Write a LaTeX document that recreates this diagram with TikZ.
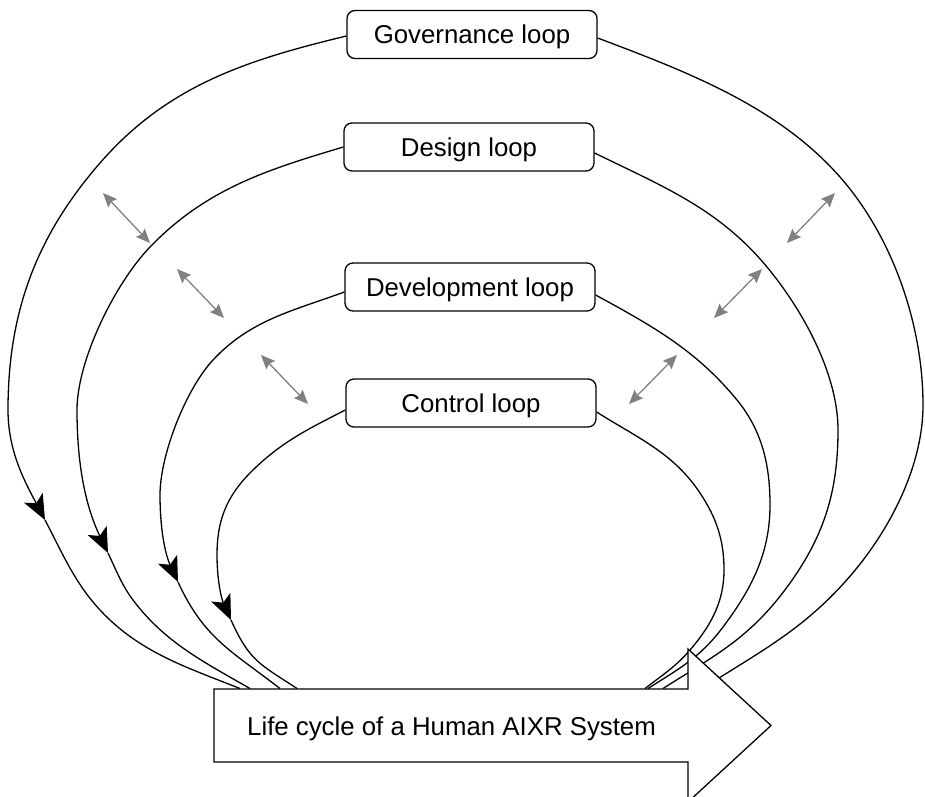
\documentclass[tikz,border=0pt]{standalone}
\usepackage{fontspec}
\setmainfont{Liberation Sans}
\usetikzlibrary{arrows.meta}
\definecolor{linkgray}{RGB}{128,128,128}
\begin{document}
\begin{tikzpicture}[x=1pt,y=-1pt,
  font=\fontsize{25.8}{31}\selectfont,
  loopbox/.style={draw, line width=1.3pt, rounded corners=8pt, fill=white,
    minimum width=250pt, minimum height=48pt, inner sep=0pt,
    text height=18.5pt, text depth=0pt},
  flow/.style={line width=1.3pt},
  flowin/.style={flow, -{Stealth[length=25pt,width=21pt,inset=6pt]}},
  link/.style={draw=linkgray, line width=1.3pt,
    {Stealth[length=14pt,width=12pt,inset=2pt]}-{Stealth[length=14pt,width=12pt,inset=2pt]}},
  lifearrow/.style={draw, line width=1.3pt, fill=white, line join=miter}
]
\useasboundingbox (0,0) rectangle (925,796);
\clip (0,0) rectangle (925,796);

% loop labels
\node[loopbox] (gov) at (472,34.5) {Governance loop};
\node[loopbox] (des) at (469,147) {Design loop};
\node[loopbox] (dev) at (470,287) {Development loop};
\node[loopbox] (ctl) at (471,403) {Control loop};

% arrow tips on the left arcs and ends on the life-cycle arrow
\coordinate (govT) at (45,520);
\coordinate (desT) at (108,553);
\coordinate (devT) at (178,582);
\coordinate (ctlT) at (231,620);
\coordinate (govL) at (240,688.5);
\coordinate (desL) at (250,688.5);
\coordinate (devL) at (280,688.5);
\coordinate (ctlL) at (297,688.5);
\coordinate (govR) at (700,690);
\coordinate (desR) at (663,688.5);
\coordinate (devR) at (648,688.5);
\coordinate (ctlR) at (645,688.5);

% governance loop
\draw[flowin] ([yshift=-1.5pt]gov.west) .. controls (247,60) and (167.6,85.2) .. (100,163)
  .. controls (36,236.6) and (8,312.5) .. (8,410)
  .. controls (8,452) and (25.5,482.8) .. (govT);
\draw[flow] (govT) .. controls (62.2,552.7) and (74.8,583) .. (100,610)
  .. controls (139.4,652.3) and (185.9,667) .. (govL);
\draw[flow] ([yshift=-3.5pt]gov.east) .. controls (686,71.4) and (777.3,105.8) .. (840,177)
  .. controls (892.8,237) and (923,325) .. (923,405)
  .. controls (923,467) and (888.9,532) .. (848,578.5)
  .. controls (801.8,631) and (758.8,652.2) .. (govR);

% design loop
\draw[flowin] (des.west) .. controls (267.2,169.7) and (206.3,188.7) .. (150,247)
  .. controls (115.3,283) and (77,360) .. (77,410)
  .. controls (77,463) and (85,505.2) .. (desT);
\draw[flow] (desT) .. controls (116.2,570.1) and (121.6,584.8) .. (133,600)
  .. controls (164.8,642.4) and (203.9,662) .. (desL);
\draw[flow] ([yshift=-6pt]des.east) .. controls (663.4,186.8) and (718.4,208.5) .. (767,267)
  .. controls (802.8,310.1) and (838,374) .. (838,430)
  .. controls (838,490) and (824.8,534.4) .. (790,583)
  .. controls (751.7,636.5) and (719.1,653) .. (desR);

% development loop
\draw[flowin] ([yshift=-5pt]dev.west) .. controls (293.3,310.7) and (250.4,319.8) .. (213,360)
  .. controls (185.8,389.2) and (160,455) .. (160,495)
  .. controls (160,527) and (164.6,552.9) .. (devT);
\draw[flow] (devT) .. controls (204,638.4) and (230.7,650.4) .. (devL);
\draw[flow] ([yshift=-8pt]dev.east) .. controls (652.2,325.9) and (696,350) .. (737,400)
  .. controls (762.2,430.8) and (770,465) .. (770,505)
  .. controls (770,553) and (751.8,588.6) .. (723,627)
  .. controls (700.2,657.4) and (680.3,667.9) .. (devR);

% control loop
\draw[flowin] ([yshift=-7pt]ctl.west) .. controls (308.3,428.9) and (280.1,442.5) .. (250,473)
  .. controls (226.2,497.1) and (217,521) .. (217,555)
  .. controls (217,579) and (221.2,598.2) .. (ctlT);
\draw[flow] (ctlT) .. controls (249.5,661) and (259.2,663.7) .. (ctlL);
\draw[flow] ([yshift=-9pt]ctl.east) .. controls (636.7,437.5) and (673,452.3) .. (700,493)
  .. controls (716.5,517.9) and (724,540) .. (724,570)
  .. controls (724,602) and (710.8,625.7) .. (690,650)
  .. controls (675.7,666.7) and (662.6,674.8) .. (ctlR);

% exchanges between neighbouring loops
\coordinate (a1s) at (103,193); \coordinate (a1e) at (150,243);
\coordinate (a2s) at (177,269); \coordinate (a2e) at (224,318);
\coordinate (a3s) at (261,355); \coordinate (a3e) at (308,404);
\coordinate (b1s) at (835,193); \coordinate (b1e) at (787,243);
\coordinate (b2s) at (762,269); \coordinate (b2e) at (714,318);
\coordinate (b3s) at (677,355); \coordinate (b3e) at (629,404);
\draw[link] (a1s) -- (a1e);
\draw[link] (a2s) -- (a2e);
\draw[link] (a3s) -- (a3e);
\draw[link] (b1s) -- (b1e);
\draw[link] (b2s) -- (b2e);
\draw[link] (b3s) -- (b3e);

% life-cycle arrow
\draw[lifearrow] (214,689) -- (688,689) -- (688,649) -- (771,725.5) -- (688,802)
  -- (688,762) -- (214,762) -- cycle;
\node[anchor=base west, inner sep=0pt] (life) at (247,735.5) {Life cycle of a Human AIXR System};
\end{tikzpicture}
\end{document}
